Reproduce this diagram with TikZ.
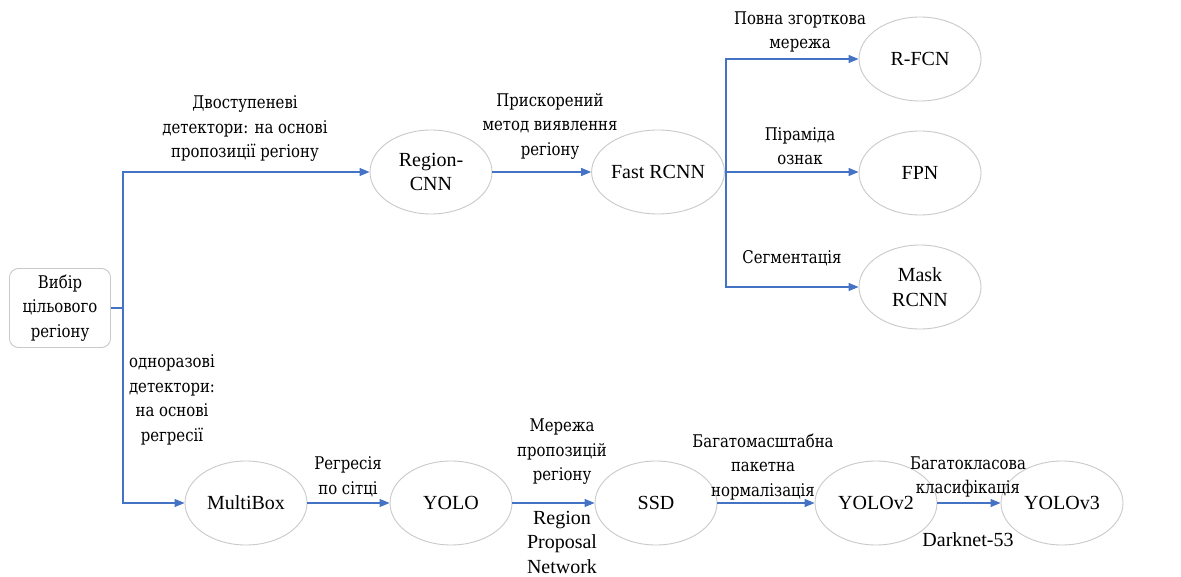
\documentclass[tikz,border=0pt]{standalone}
\usepackage{fontspec}
\setmainfont{Liberation Serif}
\newfontfamily\cyrfont{DejaVu Serif}[FakeStretch=0.85]
\usetikzlibrary{arrows.meta, shapes.geometric, calc}

\definecolor{flowblue}{HTML}{4472C4}
\definecolor{rimgrey}{HTML}{C9C9C9}

\tikzset{
  model/.style={ellipse, draw=rimgrey, line width=0.9pt, fill=white,
    minimum width=122pt, minimum height=84pt, inner sep=0pt, align=center},
  startbox/.style={draw=rimgrey, line width=0.9pt, rounded corners=9pt,
    minimum width=101pt, minimum height=79pt, inner sep=0pt, align=center,
    font=\cyrfont\fontsize{17.5}{24.5}\selectfont},
  flow/.style={draw=flowblue, line width=1.2pt,
    -{Triangle[length=10pt,width=8pt]}},
  trunk/.style={draw=flowblue, line width=1.2pt},
  lbl/.style={align=center, inner sep=0pt,
    font=\cyrfont\fontsize{17.5}{24.5}\selectfont},
  lbllat/.style={align=center, inner sep=0pt}
}

\begin{document}
\begin{tikzpicture}[x=1pt,y=-1pt,font=\fontsize{20}{24.5}\selectfont]
  \useasboundingbox (0,0) rectangle (1181,577);
  % \draw[help lines] (0,0) grid[step=50] (1181,577);

  % start and branch points
  \node[startbox] (sel) at (60,308) {Вибір\\цільового\\регіону};
  \coordinate (fork) at (123,308);
  \coordinate (split) at (726,172);

  % two-stage branch
  \node[model] (rcnn)  at (431,172) {Region-\\CNN};
  \node[model] (fast)  at (658,172) {Fast RCNN};
  \node[model] (rfcn)  at (920,59)  {R-FCN};
  \node[model] (fpn)   at (920,173) {FPN};
  \node[model] (mask)  at (920,287) {Mask\\RCNN};

  % one-stage branch
  \node[model] (mbox)  at (246,503) {MultiBox};
  \node[model] (yolo)  at (451,503) {YOLO};
  \node[model] (ssd)   at (656,503) {SSD};
  \node[model] (yolo2) at (876,503) {YOLOv2};
  \node[model] (yolo3) at (1062,503) {YOLOv3};

  % connectors
  \draw[trunk] (sel.east) -- (fork);
  \draw[flow] (fork) |- (rcnn);
  \draw[flow] (fork) |- (mbox);
  \draw[flow] (rcnn) -- (fast);
  \draw[trunk] (fast.east) -- (split);
  \draw[flow] (split) |- (rfcn);
  \draw[flow] (split) -- (split -| fpn.west);
  \draw[flow] (split) |- (mask);
  \draw[flow] (mbox) -- (yolo);
  \draw[flow] (yolo) -- (ssd);
  \draw[flow] (ssd) -- (yolo2);
  \draw[flow] (yolo2) -- (yolo3);

  % labels
  \node[lbl] (twostage) at (245,129) {Двоступеневі\\детектори: на основі\\пропозиції регіону};
  \node[lbl] (faster)   at (550,126) {Прискорений\\метод виявлення\\регіону};
  \node[lbl] (fullconv) at (800,32)  {Повна згорткова\\мережа};
  \node[lbl] (pyramid)  at (800,146) {Піраміда\\ознак};
  \node[lbl] (segm)     at (792,258) {Сегментація};
  \node[lbl] (onestage) at (172,400) {одноразові\\детектори:\\на основі\\регресії};
  \node[lbl] (gridreg)  at (348,477) {Регресія\\по сітці};
  \node[lbl] (rpnua)    at (562,452) {Мережа\\пропозицій\\регіону};
  \node[lbllat] (rpnen) at (562,542) {Region\\Proposal\\Network};
  \node[lbl] (batchn)   at (763,467) {Багатомасштабна\\пакетна\\нормалізація};
  \node[lbl] (multicls) at (968,477) {Багатокласова\\класифікація};
  \node[lbllat] (darknet) at (968,540) {Darknet-53};
\end{tikzpicture}
\end{document}
